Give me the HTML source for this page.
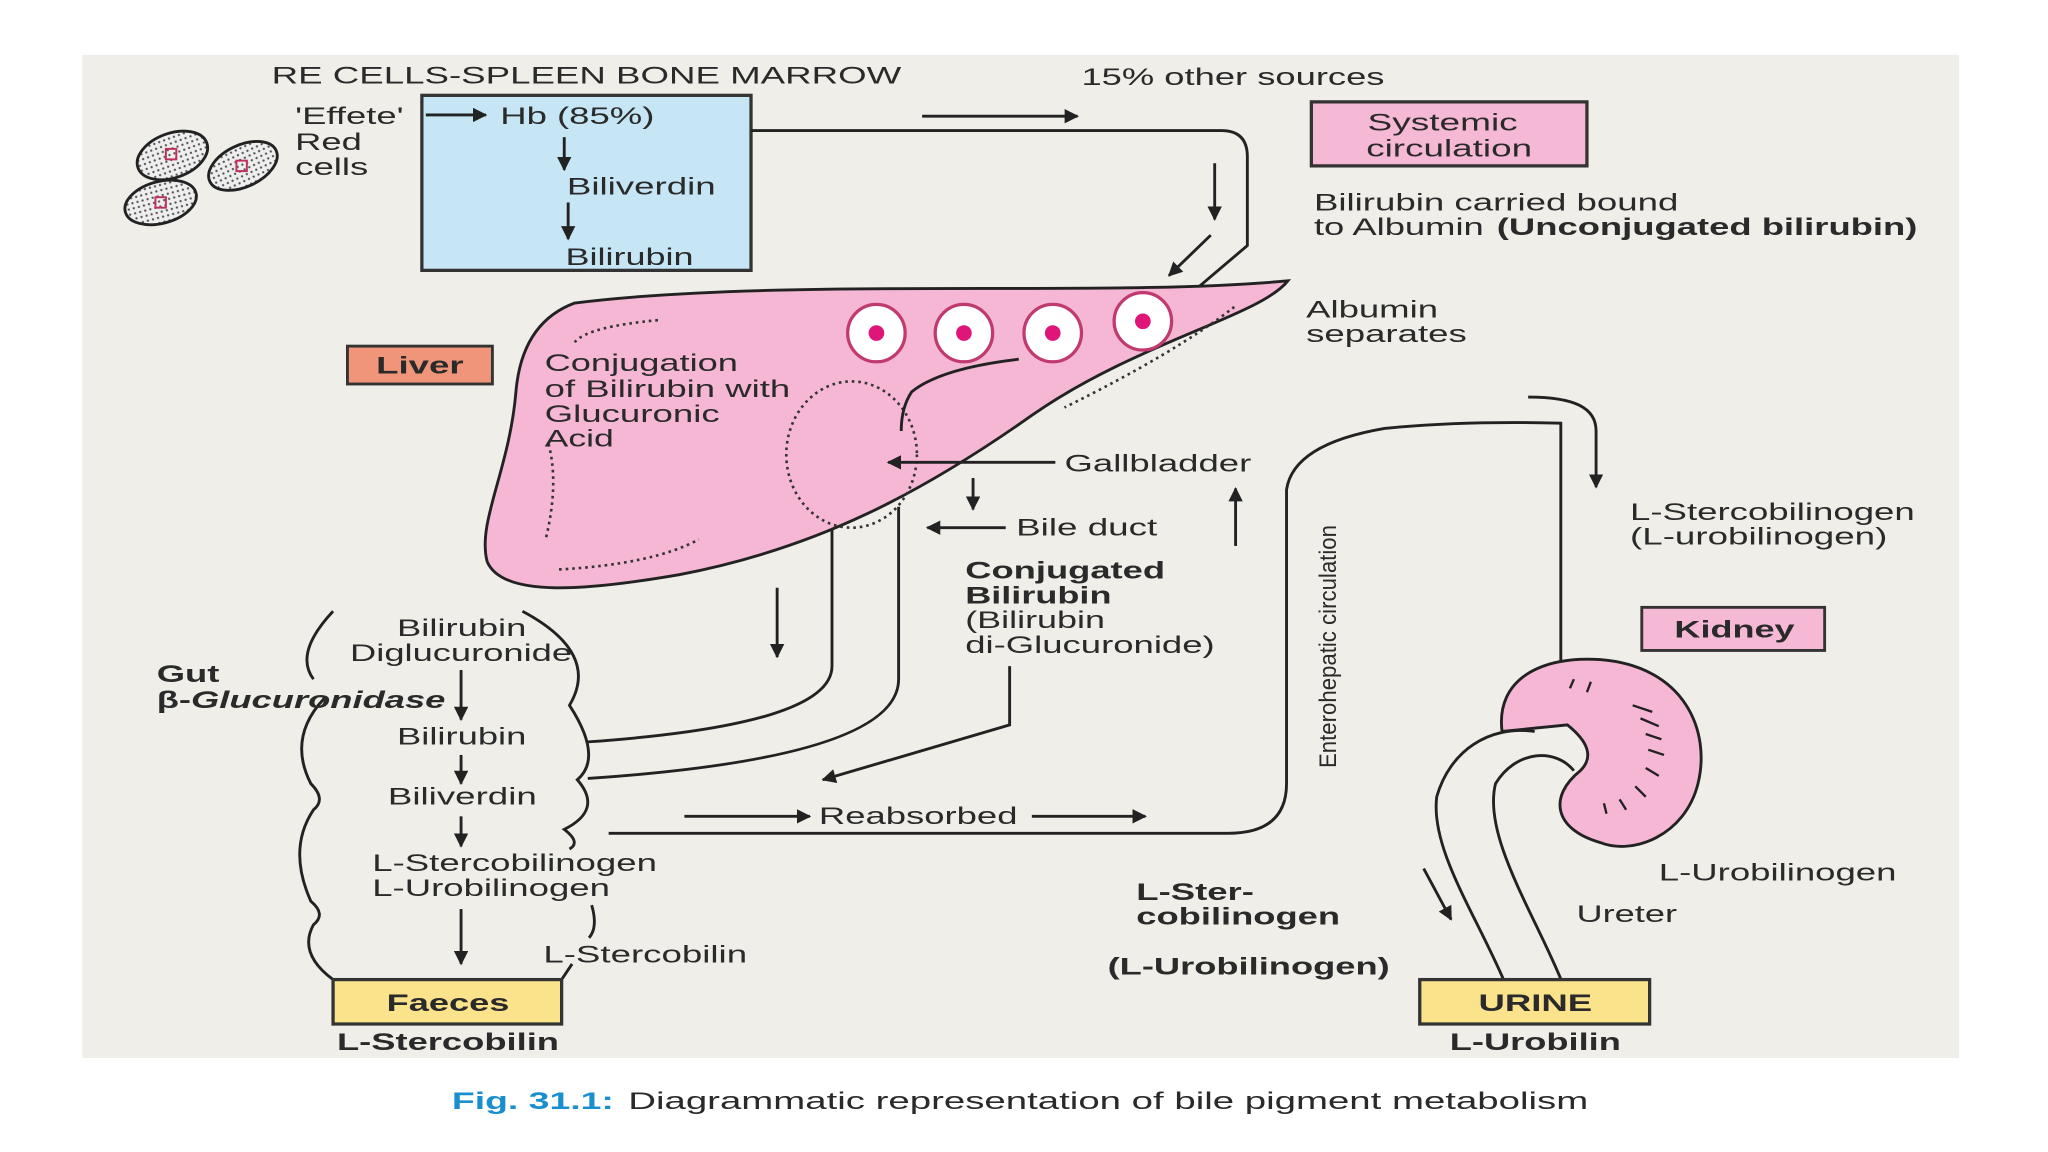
<!DOCTYPE html>
<html><head><meta charset="utf-8">
<style>
html,body{margin:0;padding:0;background:#fff;}
svg{display:block;}
text{font-family:"Liberation Sans",sans-serif;fill:#2a2a2a;font-size:18.5px;}
.b{font-weight:bold;}
</style></head>
<body>
<svg width="2048" height="1152" viewBox="0 0 1568 882" preserveAspectRatio="none" xmlns="http://www.w3.org/2000/svg">
<defs>
<marker id="ah" viewBox="0 0 10 10" refX="9" refY="5" markerWidth="5" markerHeight="5" orient="auto-start-reverse">
<path d="M0,0 L10,5 L0,10 z" fill="#222"/></marker>
<pattern id="dots" width="4" height="4" patternUnits="userSpaceOnUse"><rect width="4" height="4" fill="#eee"/><circle cx="2" cy="2" r="0.9" fill="#555"/></pattern>
</defs>
<rect x="0" y="0" width="1568" height="882" fill="#fff"/>
<rect x="63" y="42" width="1437" height="768" fill="#efeee8"/>

<g stroke="#222" stroke-width="2.2" fill="none">
<ellipse cx="132" cy="119" rx="28" ry="17" transform="rotate(-20 132 119)" fill="url(#dots)"/>
<ellipse cx="186" cy="127" rx="28" ry="16" transform="rotate(-25 186 127)" fill="url(#dots)"/>
<ellipse cx="123" cy="155" rx="28" ry="16" transform="rotate(-15 123 155)" fill="url(#dots)"/>
</g>
<g fill="none" stroke="#c0305a" stroke-width="1.5"><rect x="127" y="114" width="8" height="8"/><rect x="181" y="123" width="8" height="8"/><rect x="119" y="151" width="8" height="8"/></g>

<rect x="323" y="73" width="252" height="134" fill="#c6e6f6" stroke="#333" stroke-width="2.5"/>

<g stroke="#222" stroke-width="2.2" fill="none">
<path d="M575,100 L935,100 Q955,100 955,120 L955,188 L915,222"/>
<path d="M466,638 L940,638 Q985,638 985,600 L985,375 Q990,340 1060,328 Q1120,322 1195,324 L1195,510"/>
</g>

<!-- liver -->
<path d="M440,232 C600,212 850,228 986,215 C965,242 870,262 790,318 C705,378 625,420 520,440 C450,452 385,458 373,430 C365,400 390,360 395,300 C398,265 413,242 440,232 Z" fill="#f5b7d4" stroke="#222" stroke-width="2.2"/>
<g stroke="#333" stroke-width="2" fill="none" stroke-dasharray="2,3">
<path d="M440,262 Q450,250 505,245"/>
<path d="M420,340 Q428,370 418,412"/>
<path d="M428,436 Q500,432 535,413"/>
<path d="M945,235 Q900,270 815,312"/>
<ellipse cx="652" cy="348" rx="50" ry="56"/>
</g>
<path d="M780,275 Q720,282 698,300 Q690,312 690,330" fill="none" stroke="#222" stroke-width="2.2"/>
<path d="M637,405 L637,510 Q637,555 450,568 M688,388 L688,520 Q688,580 450,596" fill="none" stroke="#222" stroke-width="2.2"/>
<g fill="#fff" stroke="#c03a70" stroke-width="2.5">
<circle cx="671" cy="255" r="22"/><circle cx="738" cy="255" r="22"/><circle cx="806" cy="255" r="22"/><circle cx="875" cy="246" r="22"/></g>
<g fill="#e0157a"><circle cx="671" cy="255" r="6"/><circle cx="738" cy="255" r="6"/><circle cx="806" cy="255" r="6"/><circle cx="875" cy="246" r="6"/></g>

<g stroke="#222" stroke-width="2.2" fill="none" marker-end="url(#ah)">
<line x1="326" y1="88" x2="372" y2="88"/>
<line x1="432" y1="105" x2="432" y2="130"/>
<line x1="435" y1="155" x2="435" y2="183"/>
<line x1="706" y1="89" x2="825" y2="89"/>
<line x1="930" y1="125" x2="930" y2="168"/>
<line x1="927" y1="180" x2="895" y2="211"/>
<line x1="808" y1="354" x2="680" y2="354"/>
<line x1="745" y1="366" x2="745" y2="390"/>
<line x1="770" y1="404" x2="710" y2="404"/>
<line x1="946" y1="418" x2="946" y2="374"/>
<line x1="595" y1="450" x2="595" y2="503"/>
<polyline points="773,510 773,555 630,597"/>
<line x1="353" y1="513" x2="353" y2="551"/>
<line x1="353" y1="578" x2="353" y2="600"/>
<line x1="353" y1="625" x2="353" y2="648"/>
<line x1="353" y1="696" x2="353" y2="738"/>
<line x1="524" y1="625" x2="620" y2="625"/>
<line x1="790" y1="625" x2="877" y2="625"/>
<path d="M1170,304 C1205,304 1222,312 1222,330 L1222,373"/>
<line x1="1090" y1="665" x2="1111" y2="704"/>
</g>

<g lengthAdjust="spacingAndGlyphs">
<text x="208" y="64" textLength="482" lengthAdjust="spacingAndGlyphs">RE CELLS-SPLEEN BONE MARROW</text>
<text x="828" y="65" textLength="232" lengthAdjust="spacingAndGlyphs">15% other sources</text>
<text x="226" y="95" textLength="83" lengthAdjust="spacingAndGlyphs">'Effete'</text>
<text x="226" y="115" textLength="51" lengthAdjust="spacingAndGlyphs">Red</text>
<text x="226" y="134" textLength="56" lengthAdjust="spacingAndGlyphs">cells</text>
<text x="383" y="95" textLength="118" lengthAdjust="spacingAndGlyphs">Hb (85%)</text>
<text x="434" y="149" textLength="114" lengthAdjust="spacingAndGlyphs">Biliverdin</text>
<text x="433" y="203" textLength="98" lengthAdjust="spacingAndGlyphs">Bilirubin</text>
</g>

<rect x="1004" y="78" width="211" height="49" fill="#f6b9d5" stroke="#333" stroke-width="2.5"/>
<text x="1047" y="100" textLength="115" lengthAdjust="spacingAndGlyphs">Systemic</text>
<text x="1046" y="120" textLength="127" lengthAdjust="spacingAndGlyphs">circulation</text>
<text x="1006" y="161" textLength="279" lengthAdjust="spacingAndGlyphs">Bilirubin carried bound</text>
<text x="1006" y="180" textLength="130" lengthAdjust="spacingAndGlyphs">to Albumin</text>
<text x="1146" y="180" class="b" textLength="322" lengthAdjust="spacingAndGlyphs">(Unconjugated bilirubin)</text>
<text x="1000" y="243" textLength="101" lengthAdjust="spacingAndGlyphs">Albumin</text>
<text x="1000" y="262" textLength="123" lengthAdjust="spacingAndGlyphs">separates</text>

<rect x="266" y="265" width="111" height="29" fill="#f0957a" stroke="#333" stroke-width="2.2"/>
<text x="288" y="286" class="b" textLength="67" lengthAdjust="spacingAndGlyphs">Liver</text>
<text x="417" y="284" textLength="148" lengthAdjust="spacingAndGlyphs">Conjugation</text>
<text x="417" y="304" textLength="188" lengthAdjust="spacingAndGlyphs">of Bilirubin with</text>
<text x="417" y="323" textLength="134" lengthAdjust="spacingAndGlyphs">Glucuronic</text>
<text x="417" y="342" textLength="53" lengthAdjust="spacingAndGlyphs">Acid</text>
<text x="815" y="361" textLength="143" lengthAdjust="spacingAndGlyphs">Gallbladder</text>
<text x="778" y="410" textLength="108" lengthAdjust="spacingAndGlyphs">Bile duct</text>
<text x="739" y="443" class="b" textLength="153" lengthAdjust="spacingAndGlyphs">Conjugated</text>
<text x="739" y="462" class="b" textLength="112" lengthAdjust="spacingAndGlyphs">Bilirubin</text>
<text x="739" y="481" textLength="107" lengthAdjust="spacingAndGlyphs">(Bilirubin</text>
<text x="739" y="500" textLength="191" lengthAdjust="spacingAndGlyphs">di-Glucuronide)</text>

<!-- gut -->
<g stroke="#222" stroke-width="2.2" fill="none">
<path d="M255,468 Q225,500 240,520"/>
<path d="M248,535 Q220,565 238,600 Q250,612 240,620 Q220,650 238,690 Q250,700 240,708 Q228,730 255,750"/>
<path d="M400,468 Q460,500 436,540 Q462,580 442,597 Q462,620 432,635 Q445,645 436,650"/>
<path d="M453,693 Q458,710 451,718 M438,738 L430,750"/>
</g>
<text x="304" y="487" textLength="99" lengthAdjust="spacingAndGlyphs">Bilirubin</text>
<text x="268" y="506" textLength="170" lengthAdjust="spacingAndGlyphs">Diglucuronide</text>
<text x="120" y="522" class="b" textLength="48" lengthAdjust="spacingAndGlyphs">Gut</text>
<text x="120" y="542" class="b" textLength="221" lengthAdjust="spacingAndGlyphs">β-<tspan font-style="italic">Glucuronidase</tspan></text>
<text x="304" y="570" textLength="99" lengthAdjust="spacingAndGlyphs">Bilirubin</text>
<text x="297" y="616" textLength="114" lengthAdjust="spacingAndGlyphs">Biliverdin</text>
<text x="285" y="667" textLength="218" lengthAdjust="spacingAndGlyphs">L-Stercobilinogen</text>
<text x="285" y="686" textLength="182" lengthAdjust="spacingAndGlyphs">L-Urobilinogen</text>
<text x="416" y="737" textLength="156" lengthAdjust="spacingAndGlyphs">L-Stercobilin</text>
<rect x="255" y="750" width="175" height="34" fill="#fbe38c" stroke="#333" stroke-width="2.5"/>
<text x="296" y="774" class="b" textLength="94" lengthAdjust="spacingAndGlyphs">Faeces</text>
<text x="258" y="804" class="b" textLength="170" lengthAdjust="spacingAndGlyphs">L-Stercobilin</text>
<text x="627" y="631" textLength="152" lengthAdjust="spacingAndGlyphs">Reabsorbed</text>
<text transform="translate(1023,588) rotate(-90)" font-size="17" textLength="186" lengthAdjust="spacingAndGlyphs">Enterohepatic circulation</text>

<!-- kidney -->
<text x="1248" y="398" textLength="218" lengthAdjust="spacingAndGlyphs">L-Stercobilinogen</text>
<text x="1248" y="417" textLength="197" lengthAdjust="spacingAndGlyphs">(L-urobilinogen)</text>
<rect x="1257" y="465" width="140" height="33" fill="#f6b9d5" stroke="#333" stroke-width="2.2"/>
<text x="1282" y="488" class="b" textLength="92" lengthAdjust="spacingAndGlyphs">Kidney</text>
<path d="M1150,560 C1145,520 1180,502 1225,505 C1290,510 1310,560 1300,600 C1290,640 1250,655 1225,645 C1190,635 1185,610 1210,590 Q1225,575 1200,555 Z" fill="#f5b7d4" stroke="#222" stroke-width="2.2"/>
<path d="M1175,560 C1140,555 1110,575 1100,610 C1095,650 1130,700 1152,752 M1205,590 C1190,572 1160,575 1145,600 C1135,640 1175,700 1196,752" fill="none" stroke="#222" stroke-width="2.2"/>
<g stroke="#222" stroke-width="1.8">
<line x1="1205" y1="520" x2="1202" y2="527"/><line x1="1218" y1="522" x2="1215" y2="530"/>
<line x1="1250" y1="540" x2="1265" y2="545"/><line x1="1256" y1="550" x2="1270" y2="556"/><line x1="1260" y1="562" x2="1272" y2="566"/><line x1="1262" y1="574" x2="1274" y2="578"/><line x1="1260" y1="588" x2="1270" y2="594"/><line x1="1252" y1="602" x2="1260" y2="610"/><line x1="1240" y1="612" x2="1245" y2="620"/><line x1="1228" y1="615" x2="1230" y2="623"/>
</g>
<text x="1270" y="674" textLength="182" lengthAdjust="spacingAndGlyphs">L-Urobilinogen</text>
<text x="1207" y="706" textLength="77" lengthAdjust="spacingAndGlyphs">Ureter</text>
<text x="870" y="689" class="b" textLength="90" lengthAdjust="spacingAndGlyphs">L-Ster-</text>
<text x="870" y="708" class="b" textLength="156" lengthAdjust="spacingAndGlyphs">cobilinogen</text>
<text x="848" y="746" class="b" textLength="216" lengthAdjust="spacingAndGlyphs">(L-Urobilinogen)</text>
<rect x="1087" y="750" width="176" height="34" fill="#fbe38c" stroke="#333" stroke-width="2.5"/>
<text x="1132" y="774" class="b" textLength="87" lengthAdjust="spacingAndGlyphs">URINE</text>
<text x="1110" y="804" class="b" textLength="131" lengthAdjust="spacingAndGlyphs">L-Urobilin</text>

<text x="346" y="849" class="b" style="fill:#1a8fd0" textLength="124" lengthAdjust="spacingAndGlyphs">Fig. 31.1:</text>
<text x="481" y="849" textLength="735" lengthAdjust="spacingAndGlyphs">Diagrammatic representation of bile pigment metabolism</text>
</svg>
</body></html>
